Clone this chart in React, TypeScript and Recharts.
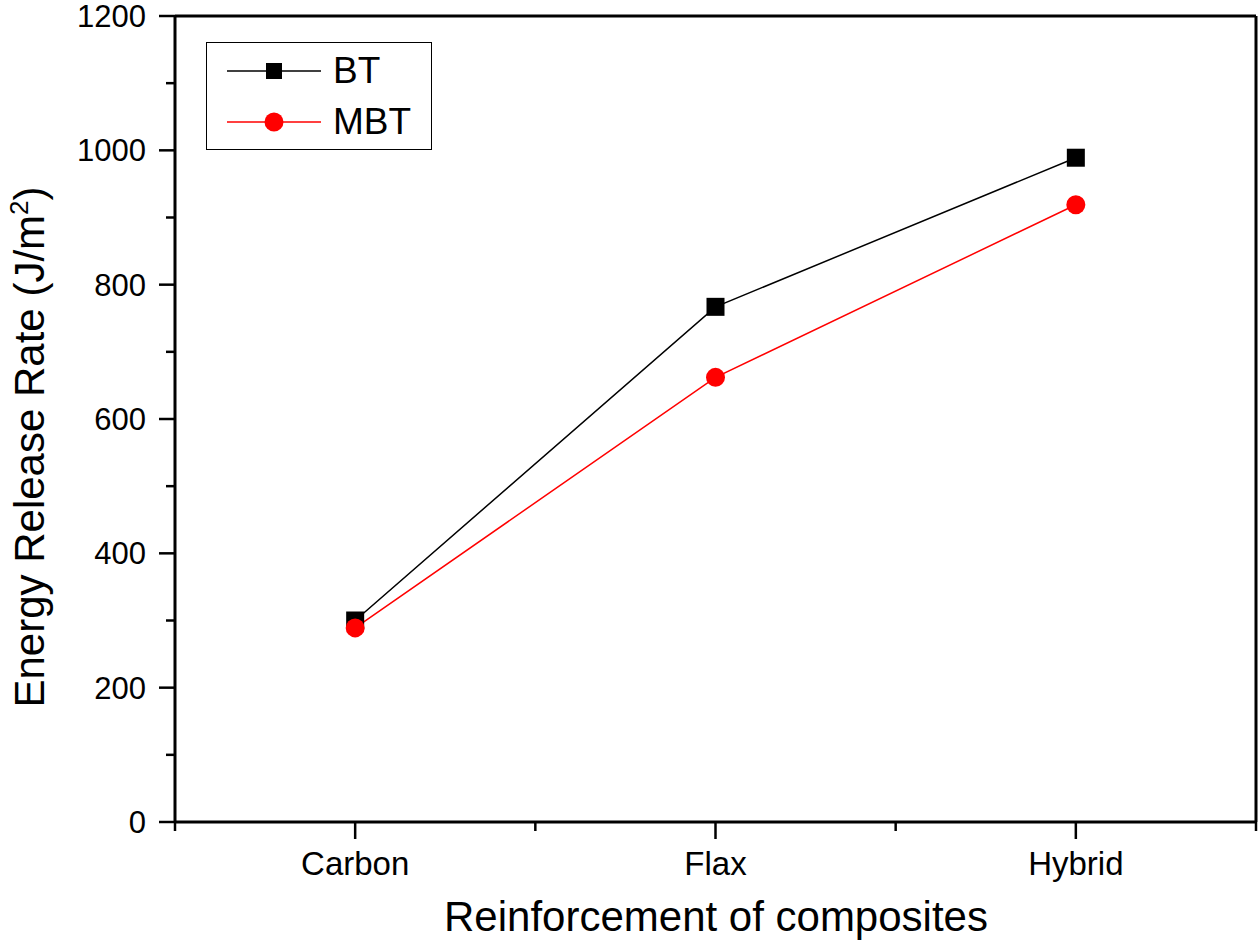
import { LineChart, Line, XAxis, YAxis, ReferenceLine } from 'recharts';

const categories = ['Carbon', 'Flax', 'Hybrid'];
const btValues = [300, 767, 989];
const mbtValues = [289, 662, 919];
const yTicks = [0, 100, 200, 300, 400, 500, 600, 700, 800, 900, 1000, 1100, 1200];
const xTicks = [-0.5, 0, 0.5, 1, 1.5, 2, 2.5];

const data = categories.map((name, i) => ({
  pos: i,
  name,
  BT: btValues[i],
  MBT: mbtValues[i],
}));

const FONT = 'Arial, "Liberation Sans", sans-serif';

function YTick(props: any) {
  const { x, y, payload } = props;
  const major = payload.value % 200 === 0;
  return (
    <g>
      <line x1={x} x2={x - (major ? 16 : 9)} y1={y} y2={y} stroke="#000" strokeWidth={2.5} />
      {major && (
        <text x={x - 29} y={y} dy={11} textAnchor="end" fontSize={31} fontFamily={FONT} fill="#000">
          {payload.value}
        </text>
      )}
    </g>
  );
}

function XTick(props: any) {
  const { x, y, payload } = props;
  const major = Number.isInteger(payload.value);
  return (
    <g>
      <line x1={x} x2={x} y1={y} y2={y + (major ? 17 : 9)} stroke="#000" strokeWidth={2.5} />
      {major && (
        <text x={x} y={y + 53} textAnchor="middle" fontSize={33} fontFamily={FONT} fill="#000">
          {categories[payload.value]}
        </text>
      )}
    </g>
  );
}

function SquareDot(props: any) {
  const { cx, cy } = props;
  return <rect x={cx - 9} y={cy - 9} width={18} height={18} fill="#000" />;
}

function CircleDot(props: any) {
  const { cx, cy } = props;
  return <circle cx={cx} cy={cy} r={9.5} fill="#ff0000" />;
}

function LegendBox() {
  const row = (label: string, color: string, square: boolean) => (
    <div style={{ display: 'flex', alignItems: 'center', height: 51 }}>
      <svg width={114} height={30}>
        <line x1={20} x2={114} y1={15} y2={15} stroke={color} strokeWidth={1.5} />
        {square ? (
          <rect x={59} y={7} width={16} height={16} fill={color} />
        ) : (
          <circle cx={67} cy={15} r={9.5} fill={color} />
        )}
      </svg>
      <span style={{ fontSize: 37, fontFamily: FONT, marginLeft: 12, lineHeight: 1 }}>{label}</span>
    </div>
  );
  return (
    <div
      style={{
        position: 'absolute',
        left: 206,
        top: 42,
        border: '1.5px solid #000',
        width: 226,
        height: 108,
        boxSizing: 'border-box',
        background: '#fff',
        paddingTop: 2,
      }}
    >
      {row('BT', '#000', true)}
      {row('MBT', '#ff0000', false)}
    </div>
  );
}

export default function App() {
  return (
    <div style={{ position: 'absolute', left: 0, top: 0, width: 1260, height: 951, background: '#fff' }}>
      <LineChart width={1260} height={951} data={data} margin={{ top: 16, right: 4, bottom: 0, left: 0 }}>
        <XAxis
          dataKey="pos"
          type="number"
          domain={[-0.5, 2.5]}
          ticks={xTicks}
          interval={0}
          height={129}
          axisLine={{ stroke: '#000', strokeWidth: 3 }}
          tickLine={false}
          tickSize={0}
          tickMargin={0}
          tick={<XTick />}
        />
        <YAxis
          domain={[0, 1200]}
          ticks={yTicks}
          interval={0}
          width={175}
          axisLine={{ stroke: '#000', strokeWidth: 3 }}
          tickLine={false}
          tickSize={0}
          tickMargin={0}
          tick={<YTick />}
        />
        <ReferenceLine y={1200} stroke="#000" strokeWidth={3} />
        <ReferenceLine x={2.5} stroke="#000" strokeWidth={3} />
        <Line
          dataKey="BT"
          stroke="#000"
          strokeWidth={1.5}
          dot={<SquareDot />}
          activeDot={false}
          isAnimationActive={false}
        />
        <Line
          dataKey="MBT"
          stroke="#ff0000"
          strokeWidth={1.5}
          dot={<CircleDot />}
          activeDot={false}
          isAnimationActive={false}
        />
      </LineChart>
      <LegendBox />
      <svg
        width={1260}
        height={951}
        style={{ position: 'absolute', left: 0, top: 0, pointerEvents: 'none' }}
      >
        <text x={716} y={931} textAnchor="middle" fontSize={42} fontFamily={FONT} fill="#000">
          Reinforcement of composites
        </text>
        <text
          transform="translate(44, 447) rotate(-90)"
          textAnchor="middle"
          fontSize={42}
          fontFamily={FONT}
          fill="#000"
        >
          Energy Release Rate (J/m
          <tspan fontSize={26} dy={-16}>2</tspan>
          <tspan dy={16}>)</tspan>
        </text>
      </svg>
    </div>
  );
}
